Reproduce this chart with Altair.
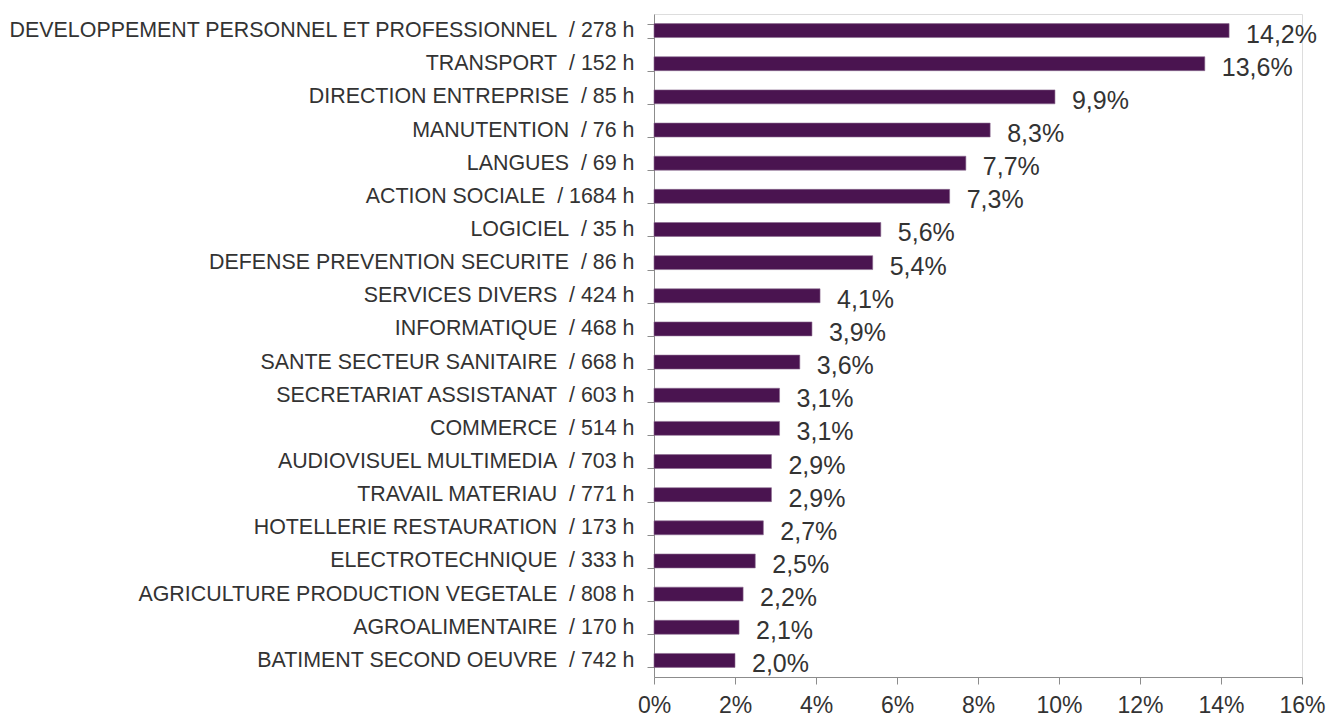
import altair as alt
import pandas as pd

categories = [
    "DEVELOPPEMENT PERSONNEL ET PROFESSIONNEL", "TRANSPORT", "DIRECTION ENTREPRISE",
    "MANUTENTION", "LANGUES", "ACTION SOCIALE", "LOGICIEL", "DEFENSE PREVENTION SECURITE",
    "SERVICES DIVERS", "INFORMATIQUE", "SANTE SECTEUR SANITAIRE", "SECRETARIAT ASSISTANAT",
    "COMMERCE", "AUDIOVISUEL MULTIMEDIA", "TRAVAIL MATERIAU", "HOTELLERIE RESTAURATION",
    "ELECTROTECHNIQUE", "AGRICULTURE PRODUCTION VEGETALE", "AGROALIMENTAIRE",
    "BATIMENT SECOND OEUVRE",
]
hours = [278, 152, 85, 76, 69, 1684, 35, 86, 424, 468, 668, 603, 514, 703, 771, 173, 333, 808, 170, 742]
values = [14.2, 13.6, 9.9, 8.3, 7.7, 7.3, 5.6, 5.4, 4.1, 3.9, 3.6, 3.1, 3.1, 2.9, 2.9, 2.7, 2.5, 2.2, 2.1, 2.0]
x_ticks = [0, 2, 4, 6, 8, 10, 12, 14, 16]

labels = [f"{c}\u00a0 / {h} h" for c, h in zip(categories, hours)]
df = pd.DataFrame({"label": labels, "value": values})
df["txt"] = [f"{v:.1f}".replace(".", ",") + "%" for v in values]

FONT = "Liberation Sans"
BAR = "#4A1450"
AXIS = "#8C8C8C"
TXT = "#333333"

y = alt.Y("label:N", sort=labels, title=None,
          scale=alt.Scale(paddingInner=0.58, paddingOuter=0.29),
          axis=alt.Axis(tickBand="extent", domainColor=AXIS, tickColor=AXIS, tickSize=7,
                        labelFontSize=21.4, labelColor=TXT, labelFont=FONT,
                        labelPadding=13, labelLimit=800))
x = alt.X("value:Q", title=None,
          scale=alt.Scale(domain=[0, 16], nice=False),
          axis=alt.Axis(values=x_ticks, labelExpr="datum.value + '%'", grid=False,
                        domainColor=AXIS, tickColor=AXIS, tickSize=7, labelFlush=False,
                        labelFontSize=23, labelColor=TXT, labelFont=FONT,
                        labelPadding=10))

bars = alt.Chart(df).mark_bar(color=BAR, stroke="#8A6A8E", strokeWidth=0.6).encode(x=x, y=y)
text = alt.Chart(df).mark_text(align="left", baseline="middle", dx=17, dy=4,
                               fontSize=25, font=FONT, color=TXT).encode(
    x="value:Q", y=alt.Y("label:N", sort=labels), text="txt:N")

chart = (bars + text).properties(
    width=648, height=663,
    autosize=alt.AutoSizeParams(type="none"),
    padding={"left": 646, "top": 6, "right": 24, "bottom": 43},
).configure_view(stroke=None).configure(font=FONT)

chart.save("out.html", embed_options={"renderer": "svg", "actions": False})
